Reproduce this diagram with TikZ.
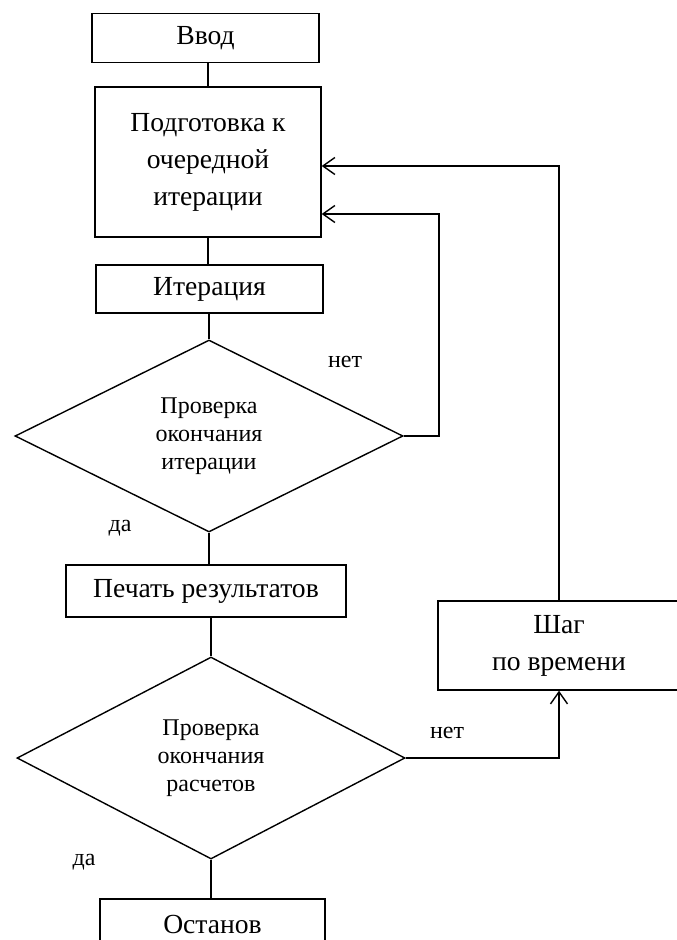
\documentclass[tikz,border=0pt]{standalone}
\usepackage{fontspec}
\setmainfont{Liberation Serif}
\usetikzlibrary{shapes.geometric,arrows.meta}
\begin{document}
\begin{tikzpicture}[x=0.5pt,y=-0.5pt,line width=0.7pt,
    block/.style={draw,inner sep=0pt,align=center,font=\fontsize{13.8}{18.5}\selectfont},
    check/.style={diamond,draw,inner sep=0pt,align=center,
      minimum width=194pt,font=\fontsize{12}{14}\selectfont},
    answer/.style={inner sep=0pt,font=\fontsize{12}{13}\selectfont}]
  \useasboundingbox (0,0) rectangle (676,940);
  \draw
    (205.5,38) node[block,minimum width=113.5pt,minimum height=24.5pt] (vvod){Ввод}
    (208,162) node[block,minimum width=113pt,minimum height=75pt] (podg){Подготовка к\\очередной\\итерации}
    (209.5,289) node[block,minimum width=113.5pt,minimum height=24pt] (iter){Итерация}
    (209,436) node[check,minimum height=96pt] (check1){Проверка\\окончания\\итерации}
    (206,591) node[block,minimum width=140pt,minimum height=26pt] (print){Печать результатов}
    (211,758) node[check,minimum height=101pt] (check2){Проверка\\окончания\\расчетов}
    (212.5,924) node[block,minimum width=112.5pt,minimum height=25pt] (stop){Останов}
    (559,645.5) node[block,minimum width=121pt,minimum height=44.5pt] (step){Шаг\\по времени};
  \draw
    (345,362) node[answer] (no1){нет}
    (120,528) node[answer] (yes1){да}
    (447,733) node[answer] (no2){нет}
    (84,862) node[answer] (yes2){да};
  \coordinate (loop) at (439,214);
  \coordinate (back) at (559,166);
  \begin{scope}[-]
    \draw (podg.north) to (podg.north |- vvod.south);
    \draw (podg.south) to (podg.south |- iter.north);
    \draw (check1.north) to (check1.north |- iter.south);
    \draw (check1.south) to (check1.south |- print.north);
    \draw (check2.north) to (check2.north |- print.south);
    \draw (check2.south) to (check2.south |- stop.north);
  \end{scope}
  \begin{scope}[-{Straight Barb[length=6pt,width=8.5pt]}]
    \draw (check1.east) -| (loop) -- (podg.east |- loop);
    \draw (step.north) -- (back) -- (podg.east |- back);
    \draw (check2.east) -| (step.south);
  \end{scope}
\end{tikzpicture}
\end{document}
